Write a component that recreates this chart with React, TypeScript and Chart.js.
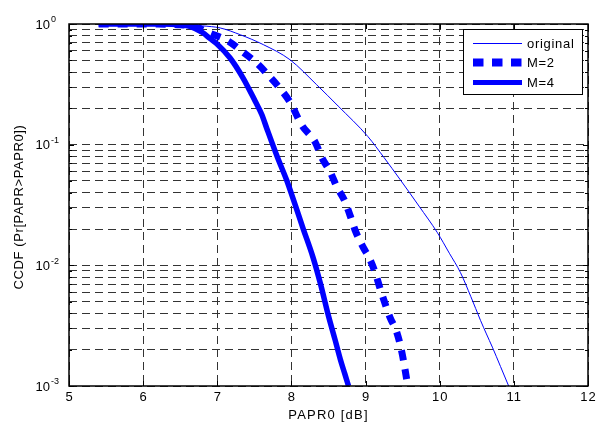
import React, { useEffect, useRef } from 'react';
import { Chart, registerables } from 'chart.js';

Chart.register(...registerables);

// ---- data ----
const originalX = [5.4, 6.0, 6.5, 6.8, 7.04, 7.31, 7.62, 7.98, 8.34, 8.63, 9.03, 9.25, 9.47, 9.72, 9.97, 10.13, 10.28, 10.42, 10.55, 10.63, 10.71, 10.82, 10.93];
const originalY = [1.0, 0.998, 0.99, 0.965, 0.927, 0.815, 0.675, 0.506, 0.314, 0.209, 0.117, 0.078, 0.051, 0.031, 0.0186, 0.0126, 0.0087, 0.0055, 0.0035, 0.0027, 0.0021, 0.00145, 0.001];

const m2X = [5.4, 6.2, 6.5, 6.7, 6.9, 7.15, 7.33, 7.53, 7.69, 7.84, 7.98, 8.14, 8.32, 8.41, 8.52, 8.61, 8.72, 8.79, 8.86, 8.97, 9.05, 9.13, 9.2, 9.33, 9.42, 9.49, 9.57];
const m2Y = [1.0, 0.998, 0.985, 0.95, 0.84, 0.72, 0.595, 0.475, 0.376, 0.295, 0.226, 0.145, 0.105, 0.078, 0.06, 0.045, 0.034, 0.026, 0.0195, 0.014, 0.0115, 0.0087, 0.0063, 0.0037, 0.0028, 0.0019, 0.001];

const m4X = [5.4, 6.2, 6.5, 6.63, 6.8, 6.9, 7.0, 7.17, 7.35, 7.51, 7.6, 7.67, 7.81, 7.94, 8.02, 8.16, 8.29, 8.39, 8.5, 8.59, 8.66, 8.72, 8.77];
const m4Y = [1.0, 0.998, 0.985, 0.957, 0.85, 0.76, 0.68, 0.525, 0.355, 0.23, 0.178, 0.135, 0.079, 0.05, 0.036, 0.02, 0.0117, 0.0071, 0.0038, 0.0024, 0.00166, 0.00126, 0.001];

const seriesLabels = ['original', 'M=2', 'M=4'];
const xTickValues = [5, 6, 7, 8, 9, 10, 11, 12];
const yDecades = [0.001, 0.01, 0.1, 1];
const yExponents = ['-3', '-2', '-1', '0'];
const yMantissas = [1, 2, 3, 4, 5, 6, 7, 8, 9];
const xTitle = 'PAPR0 [dB]';
const yTitle = 'CCDF (Pr[PAPR>PAPR0])';

const FONT = '"Liberation Sans", Arial, Helvetica, sans-serif';
const BLUE = '#0000ff';

const toPoints = (xs: number[], ys: number[]) => xs.map((x, i) => ({ x, y: ys[i] }));

export default function App() {
  const ref = useRef<HTMLCanvasElement>(null);

  useEffect(() => {
    document.body.style.margin = '0';
    const canvas = ref.current;
    if (!canvas) return;

    const yGridValues: number[] = [];
    yDecades.slice(0, 3).forEach((d) => yMantissas.forEach((m) => yGridValues.push(+(d * m).toPrecision(3))));
    yGridValues.push(1);

    const framePlugin = {
      id: 'matlabFrame',
      afterDraw(chart: any) {
        const ctx = chart.ctx as CanvasRenderingContext2D;
        const xs = chart.scales.x;
        const ys = chart.scales.y;
        const { left, right, top, bottom } = chart.chartArea;
        ctx.save();
        ctx.setLineDash([]);
        ctx.strokeStyle = '#000';

        // inward ticks
        ctx.lineWidth = 1;
        ctx.beginPath();
        xTickValues.forEach((v) => {
          const px = Math.round(xs.getPixelForValue(v)) + 0.5;
          ctx.moveTo(px, bottom);
          ctx.lineTo(px, bottom - 5);
          ctx.moveTo(px, top);
          ctx.lineTo(px, top + 5);
        });
        yGridValues.forEach((v) => {
          const py = Math.round(ys.getPixelForValue(v)) + 0.5;
          const len = yDecades.includes(v) ? 5 : 3;
          ctx.moveTo(left, py);
          ctx.lineTo(left + len, py);
          ctx.moveTo(right, py);
          ctx.lineTo(right - len, py);
        });
        ctx.stroke();

        // axes box
        ctx.lineWidth = 1.5;
        ctx.strokeRect(left, top, right - left, bottom - top);

        // x tick labels
        ctx.fillStyle = '#000';
        ctx.font = `13px ${FONT}`;
        ctx.textAlign = 'center';
        ctx.textBaseline = 'alphabetic';
        (ctx as any).letterSpacing = '1px';
        xTickValues.forEach((v) => {
          ctx.fillText(String(v), xs.getPixelForValue(v) + 0.5, 401);
        });

        // y tick labels (10^n)
        (ctx as any).letterSpacing = '0px';
        yDecades.forEach((d, i) => {
          const py = ys.getPixelForValue(d);
          ctx.font = `13px ${FONT}`;
          ctx.textAlign = 'right';
          ctx.textBaseline = 'middle';
          ctx.fillText('10', 50, py + 1);
          ctx.font = `9px ${FONT}`;
          ctx.textAlign = 'left';
          ctx.fillText(yExponents[i], 51, py - 4);
        });

        // x title
        ctx.font = `13px ${FONT}`;
        ctx.textAlign = 'center';
        ctx.textBaseline = 'alphabetic';
        (ctx as any).letterSpacing = '1.2px';
        ctx.fillText(xTitle, (left + right) / 2, 419);

        // y title
        (ctx as any).letterSpacing = '0.6px';
        ctx.save();
        ctx.translate(23, 207);
        ctx.rotate(-Math.PI / 2);
        ctx.fillText(yTitle, 0, 0);
        ctx.restore();

        // legend
        (ctx as any).letterSpacing = '0.7px';
        const lx = 463.5, ly = 29.5, lw = 119, lh = 65;
        ctx.fillStyle = '#fff';
        ctx.fillRect(lx, ly, lw, lh);
        ctx.lineWidth = 1;
        ctx.strokeStyle = '#000';
        ctx.strokeRect(lx, ly, lw, lh);
        const rowsY = [43, 62, 82];
        const widths = [1, 8, 5];
        const dashes = [[], [10.5, 8.5], []];
        seriesLabels.forEach((lab, i) => {
          ctx.strokeStyle = BLUE;
          ctx.lineWidth = widths[i];
          ctx.lineCap = 'butt';
          ctx.setLineDash(dashes[i]);
          ctx.beginPath();
          ctx.moveTo(473, rowsY[i] + 0.5);
          ctx.lineTo(522, rowsY[i] + 0.5);
          ctx.stroke();
          ctx.setLineDash([]);
          ctx.fillStyle = '#000';
          ctx.font = `13px ${FONT}`;
          ctx.textAlign = 'left';
          ctx.textBaseline = 'alphabetic';
          ctx.fillText(lab, 527, rowsY[i] + 4.5);
        });
        ctx.restore();
      },
    };

    const chart = new Chart(canvas, {
      type: 'line',
      data: {
        datasets: [
          {
            label: seriesLabels[2],
            data: toPoints(m4X, m4Y),
            borderColor: BLUE,
            borderWidth: 5.5,
            borderJoinStyle: 'round',
            pointRadius: 0,
            cubicInterpolationMode: 'monotone',
            fill: false,
          },
          {
            label: seriesLabels[1],
            data: toPoints(m2X, m2Y),
            borderColor: BLUE,
            borderWidth: 7,
            borderDash: [10, 9],
            borderCapStyle: 'butt',
            pointRadius: 0,
            cubicInterpolationMode: 'monotone',
            fill: false,
          },
          {
            label: seriesLabels[0],
            data: toPoints(originalX, originalY),
            borderColor: BLUE,
            borderWidth: 1,
            pointRadius: 0,
            cubicInterpolationMode: 'monotone',
            fill: false,
          },
        ],
      },
      options: {
        responsive: false,
        animation: false,
        parsing: false as any,
        layout: { padding: { top: 24, right: 12, left: 0, bottom: 0 } },
        plugins: { legend: { display: false }, tooltip: { enabled: false } },
        scales: {
          x: {
            type: 'linear',
            min: 5,
            max: 12,
            ticks: { display: false },
            afterBuildTicks: (s: any) => {
              s.ticks = xTickValues.map((v) => ({ value: v }));
            },
            afterFit: (s: any) => {
              s.height = 37;
            },
            grid: { color: '#333', lineWidth: 1, drawTicks: false },
            border: { display: false, dash: [8, 5] },
          },
          y: {
            type: 'logarithmic',
            min: 0.001,
            max: 1,
            ticks: { display: false },
            afterBuildTicks: (s: any) => {
              s.ticks = yGridValues.map((v) => ({ value: v }));
            },
            afterFit: (s: any) => {
              s.width = 69;
            },
            grid: { color: '#333', lineWidth: 1, drawTicks: false },
            border: { display: false, dash: [8, 5] },
          },
        },
      },
      plugins: [framePlugin],
    });

    return () => chart.destroy();
  }, []);

  return (
    <div style={{ width: 600, height: 423, background: '#fff' }}>
      <canvas ref={ref} width={600} height={423} />
    </div>
  );
}
